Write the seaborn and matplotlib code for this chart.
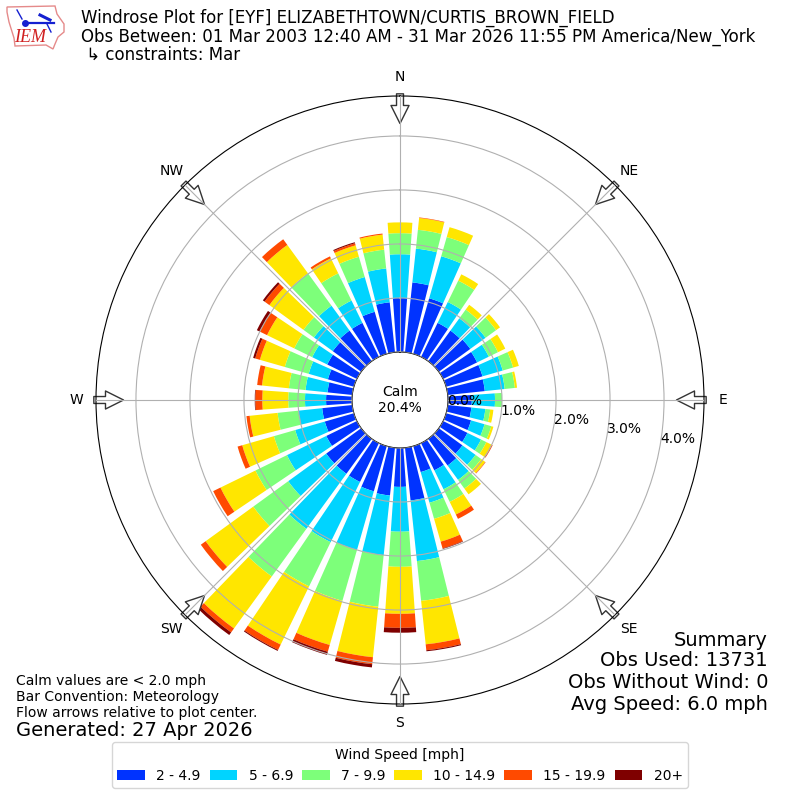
import numpy as np
import pandas as pd
import matplotlib
matplotlib.use('Agg')
import matplotlib.pyplot as plt
from matplotlib.patches import Polygon
from matplotlib.lines import Line2D
import seaborn as sns

# percent of observations per direction bin, 0 to 350 degrees
directions = list(range(0, 360, 10))
speed_2_5 = [1.00, 1.30, 1.07, .70, .70, .72, .70, .70, .69, .44, .44, .48, .50, .54, .61, .56, .50, .98,
             .72, .89, .87, .80, .80, .80, .63, .56, .56, .48, .46, .50, .61, .65, .70, .70, .81, .93]
speed_5_7 = [.81, .63, .81, .43, .28, .35, .24, .39, .37, .43, .26, .26, .28, .30, .33, .39, .59, 1.13,
             .83, 1.11, 1.13, 1.24, 1.26, .87, .81, .57, .44, .39, .41, .37, .31, .43, .57, .46, .67, .63]
speed_7_10 = [.39, .35, .37, .44, .20, .24, .19, .20, .19, .13, .09, .13, .11, .13, .20, .26, .31, .74,
              .65, .96, .98, .91, 1.09, .80, .65, .41, .39, .31, .31, .46, .37, .24, .74, .56, .39, .35]
speed_10_15 = [.20, .22, .19, .13, .11, .09, .15, .11, .04, 0, .06, .04, .11, .09, .13, .26, .44, .81,
               .87, .94, .85, 1.20, 1.19, 1.09, .72, .61, .52, .48, .50, .48, .56, .78, .65, .31, .22, .28]
speed_15_20 = [0, .01, 0, 0, 0, 0, 0, 0, 0, 0, 0, 0, .02, .01, 0, .09, .13, .11,
               .26, .13, .13, .11, .09, .11, .15, .09, .06, .13, .09, .09, .15, .11, .13, .04, .04, .02]
speed_20 = [0, 0, 0, 0, 0, 0, 0, 0, 0, 0, 0, 0, 0, 0, 0, 0, .01, .02,
            .09, .06, .06, .02, .06, 0, 0, 0, 0, .01, 0, .04, .06, .04, 0, 0, .02, 0]

speed_labels = ['2 - 4.9', '5 - 6.9', '7 - 9.9', '10 - 14.9', '15 - 19.9', '20+']
speed_colors = ['#0033ff', '#00d4ff', '#7dff7a', '#ffe600', '#ff4a00', '#7f0000']
speed_series = [speed_2_5, speed_5_7, speed_7_10, speed_10_15, speed_15_20, speed_20]

compass_angles = [0, 45, 90, 135, 180, 225, 270, 315]
compass_labels = ['N', 'NE', 'E', 'SE', 'S', 'SW', 'W', 'NW']
ring_values = [0, 1, 2, 3, 4]
ring_labels = ['0.0%', '1.0%', '2.0%', '3.0%', '4.0%']
summary_lines = ['Summary', 'Obs Used: 13731', 'Obs Without Wind: 0', 'Avg Speed: 6.0 mph']

fig = plt.figure(figsize=(8, 8), dpi=100, facecolor='white')
ax = fig.add_axes([0.12, 0.12, 0.76, 0.76], projection='polar')
ax.set_theta_zero_location('N')
ax.set_theta_direction(-1)

df = pd.DataFrame(np.array(speed_series).T, columns=speed_labels)
df['theta'] = np.radians(directions)

# stacked bars, each speed class starts where the last one ended
bottom = np.zeros(len(directions))
for label, color in zip(speed_labels, speed_colors):
    sns.barplot(data=df, x='theta', y=label, color=color, saturation=1, native_scale=True,
                width=0.8, errorbar=None, linewidth=0, bottom=bottom, ax=ax)
    bottom = bottom + df[label].values

ax.set_xlabel('')
ax.set_ylabel('')
ax.set_rorigin(-0.889)
ax.set_ylim(0, 4.74)
ax.set_xlim(0, 2 * np.pi)
ax.set_axisbelow(False)
ax.set_thetagrids(compass_angles, compass_labels, fontsize=10)
ax.tick_params(axis='x', pad=3.5)
ax.set_rgrids(ring_values, ring_labels, angle=100, fontsize=10)
ax.grid(True, color='#b0b0b0', linewidth=0.8)

# inflow arrows round the rim, gridlines stay on top of them
for angle in compass_angles:
    theta = np.radians(angle)
    ax.annotate('', xy=(theta, 4.23), xytext=(theta, 4.78), annotation_clip=False, zorder=2,
                arrowprops=dict(facecolor='white', edgecolor='#333333', width=5, headwidth=13,
                                headlength=13, linewidth=1, shrink=0))

ax.text(0, -0.889, 'Calm\n20.4%', ha='center', va='center', fontsize=10)

fig.text(81 / 800, 1 - 18 / 800, 'Windrose Plot for [EYF] ELIZABETHTOWN/CURTIS_BROWN_FIELD', fontsize=12, va='center')
fig.text(81 / 800, 1 - 37 / 800, 'Obs Between: 01 Mar 2003 12:40 AM - 31 Mar 2026 11:55 PM America/New_York', fontsize=12, va='center')
fig.text(81 / 800, 1 - 55 / 800, ' \u21b3 constraints: Mar', fontsize=12, va='center')

for line, y in zip(summary_lines, [640, 661, 683, 705]):
    fig.text(768 / 800, 1 - y / 800, line, ha='right', va='center', fontsize=14)
fig.text(16 / 800, 1 - 720 / 800, 'Calm values are < 2.0 mph\nBar Convention: Meteorology\nFlow arrows relative to plot center.',
         fontsize=10, va='bottom')
fig.text(16 / 800, 1 - 730 / 800, 'Generated: 27 Apr 2026', fontsize=14, va='center')

handles = [Polygon([[0, 0]], facecolor=c, edgecolor='none') for c in speed_colors]
fig.legend(handles, speed_labels, title='Wind Speed [mph]', ncol=6, fontsize=10, title_fontsize=10,
           loc='lower center', bbox_to_anchor=(0.5, 0.006), columnspacing=0.65)

# IEM logo
logo = fig.add_axes([0, 0.935, 0.09, 0.065])
logo.set_xlim(0, 72)
logo.set_ylim(52, 0)
logo.axis('off')
iowa = [(7, 7), (55, 6), (57, 14), (64, 24), (64, 32), (58, 37), (55, 44), (53, 49), (46, 45), (15, 46), (14, 38), (9, 22), (7, 12)]
logo.add_patch(Polygon(iowa, closed=True, facecolor='white', edgecolor='#e58a8a', linewidth=1))
logo.add_line(Line2D([25, 54], [23, 23], color='#1520d0', linewidth=1.6))
logo.add_line(Line2D([17, 22], [10, 19], color='#1520d0', linewidth=1))
logo.add_line(Line2D([40, 50], [15, 20], color='#1520d0', linewidth=2.2))
logo.add_line(Line2D([47, 51], [24, 32], color='#1520d0', linewidth=1))
logo.plot([25], [23], 'o', color='#1520d0', markersize=4)
logo.text(30, 38, 'IEM', color='#d02020', fontsize=13, style='italic', family='Liberation Serif', ha='center', va='center')

fig.savefig('out.png', dpi=100, facecolor='white')
